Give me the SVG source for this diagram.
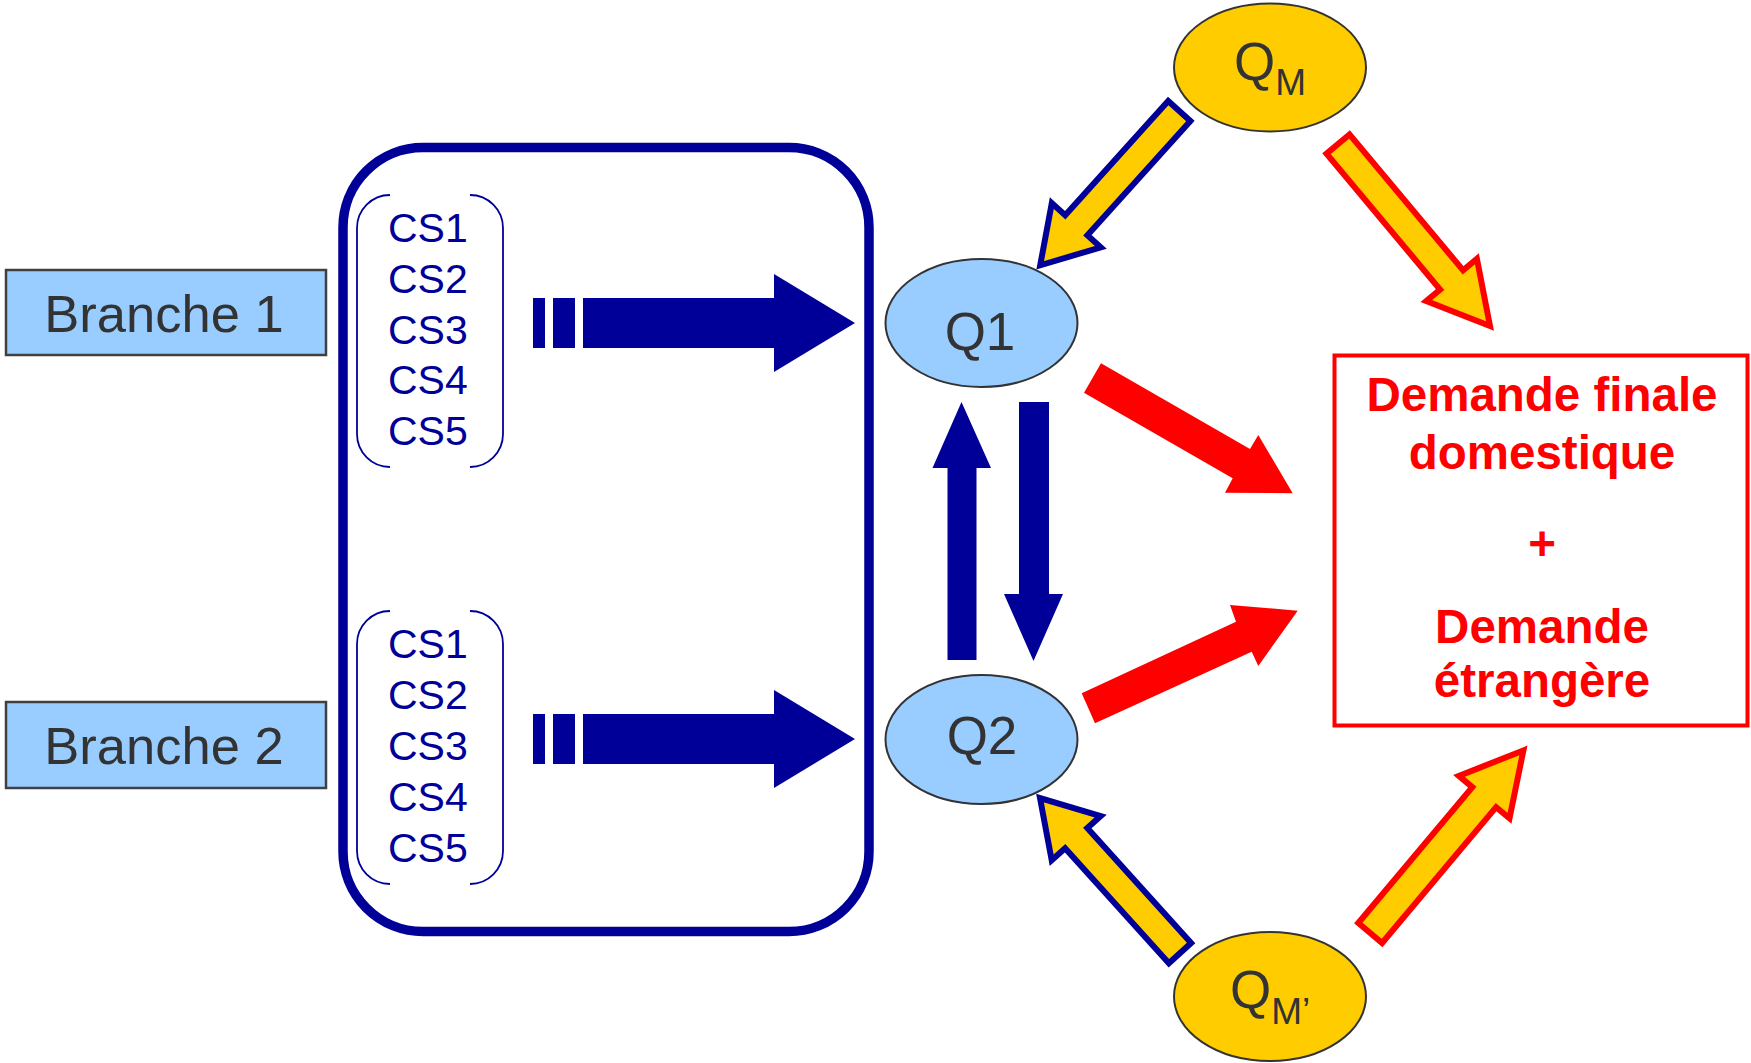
<svg xmlns="http://www.w3.org/2000/svg" width="1751" height="1063" viewBox="0 0 1751 1063">
<style>
.box{fill:#99CCFF;stroke:#404040;stroke-width:2.5}
.lbl{font-family:"Liberation Sans",Arial,sans-serif;fill:#333333}
.cs{font-family:"Liberation Sans",Arial,sans-serif;font-size:41px;fill:#000099}
.brk{fill:none;stroke:#000099;stroke-width:1.8}
.ell{stroke:#333333;stroke-width:2}
.blue{fill:#000099}
.red{fill:#FF0000}
.ya{fill:#FFCC00;stroke-width:6;stroke-linejoin:miter}
.dem{font-family:"Liberation Sans",Arial,sans-serif;font-weight:bold;font-size:47.5px;fill:#FF0000;text-anchor:middle}
</style>
<rect width="1751" height="1063" fill="#FFFFFF"/>
<g id="branche1">
<rect class="box" x="6" y="270" width="320" height="85"/>
<text class="lbl" x="164" y="332" font-size="52.5" text-anchor="middle">Branche 1</text>
</g>
<g id="branche2">
<rect class="box" x="6" y="702" width="320" height="86"/>
<text class="lbl" x="164" y="764" font-size="52.5" text-anchor="middle">Branche 2</text>
</g>
<g id="cadre">
<rect x="343" y="147.5" width="526" height="784" rx="80" ry="80" fill="none" stroke="#000099" stroke-width="9.5"/>
</g>
<g id="cs-groupe1">
<path class="brk" d="M390,195 A33,33 0 0 0 357,228 V434 A33,33 0 0 0 390,467 M470,195 A33,33 0 0 1 503,228 V434 A33,33 0 0 1 470,467"/>
<text class="cs" x="388" y="242">CS1</text>
<text class="cs" x="388" y="292.75">CS2</text>
<text class="cs" x="388" y="343.5">CS3</text>
<text class="cs" x="388" y="394.25">CS4</text>
<text class="cs" x="388" y="445">CS5</text>
</g>
<g id="cs-groupe2">
<path class="brk" d="M390,611 A33,33 0 0 0 357,644 V851 A33,33 0 0 0 390,884 M470,611 A33,33 0 0 1 503,644 V851 A33,33 0 0 1 470,884"/>
<text class="cs" x="388" y="658">CS1</text>
<text class="cs" x="388" y="709">CS2</text>
<text class="cs" x="388" y="760">CS3</text>
<text class="cs" x="388" y="811">CS4</text>
<text class="cs" x="388" y="862">CS5</text>
</g>
<g id="q1">
<ellipse class="ell" cx="981.5" cy="323" rx="96" ry="64" fill="#99CCFF"/>
<text class="lbl" x="980" y="350" font-size="53" text-anchor="middle">Q1</text>
</g>
<g id="q2">
<ellipse class="ell" cx="981.5" cy="739.5" rx="96" ry="64.5" fill="#99CCFF"/>
<text class="lbl" x="982" y="754" font-size="53" text-anchor="middle">Q2</text>
</g>
<g id="qm">
<ellipse class="ell" cx="1270" cy="67.5" rx="96" ry="64" fill="#FFCC00"/>
<text class="lbl" x="1234" y="80" font-size="53">Q<tspan font-size="37" dy="15">M</tspan></text>
</g>
<g id="qm-prime">
<ellipse class="ell" cx="1270" cy="996.5" rx="96" ry="64.5" fill="#FFCC00"/>
<text class="lbl" x="1230" y="1008" font-size="53">Q<tspan font-size="37" dy="16">M’</tspan></text>
</g>
<g id="demande">
<rect x="1334.5" y="355.5" width="413" height="370" fill="#FFFFFF" stroke="#FF0000" stroke-width="4"/>
<text class="dem" x="1542" y="411">Demande finale</text>
<text class="dem" x="1542" y="469">domestique</text>
<text class="dem" x="1542" y="560">+</text>
<text class="dem" x="1542" y="643">Demande</text>
<text class="dem" x="1542" y="697">étrangère</text>
</g>
<g id="connecteurs">
<rect class="blue" x="533" y="298" width="12" height="50"/>
<rect class="blue" x="553" y="298" width="22" height="50"/>
<polygon class="blue" points="583,298 774,298 774,274 855,323 774,372 774,348 583,348"/>
<rect class="blue" x="533" y="714" width="12" height="50"/>
<rect class="blue" x="553" y="714" width="22" height="50"/>
<polygon class="blue" points="583,714 774,714 774,690 855,739 774,788 774,764 583,764"/>
<polygon class="blue" points="961.5,402 991,468 976.5,468 976.5,660 947.5,660 947.5,468 932.5,468"/>
<polygon class="blue" points="1019,402 1049,402 1049,594 1063,594 1033.5,661 1004,594 1019,594"/>
<polygon class="red" points="1101,363.3 1250,449 1258.3,435 1292.7,493.3 1225,492.7 1232.7,478.3 1084,392.7"/>
<polygon class="red" points="1081.7,693.3 1236,621.7 1230,605 1297.7,610.7 1258.3,666 1251.7,651.7 1095,723.3"/>
<polygon class="ya" stroke="#FF0000" points="1349.5,134.4 1463.1,270.3 1476.9,258.8 1490,326 1426.3,301 1440.1,289.5 1326.5,153.6"/>
<polygon class="ya" stroke="#FF0000" points="1358.3,923 1472.3,787.1 1458.9,775.9 1523.4,750.4 1509.5,818.3 1496.1,807.1 1382.1,943"/>
<polygon class="ya" stroke="#000099" points="1190.4,120.9 1087.4,235.2 1100.8,247.3 1040.2,265.3 1051.8,203.1 1065.2,215.2 1168.2,100.9"/>
<polygon class="ya" stroke="#000099" points="1191.1,943 1087.3,828 1100.7,816 1040,798 1051.7,860.2 1065.1,848.2 1168.9,963.2"/>
</g>
</svg>
